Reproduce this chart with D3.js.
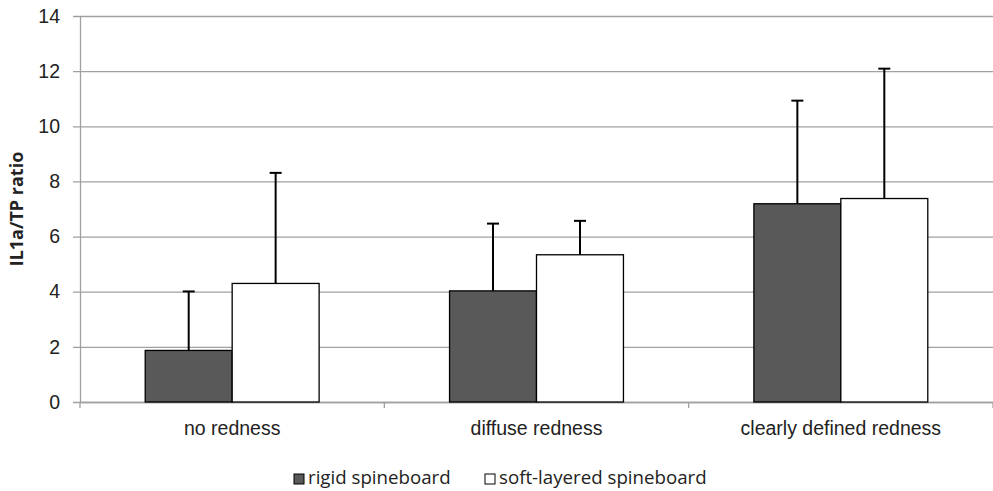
<!DOCTYPE html>
<html>
<head>
<meta charset="utf-8">
<script src="https://cdn.jsdelivr.net/npm/d3@7"></script>
<style>
  body { margin: 0; background: #fff; }
  svg { font-family: "Open Sans", sans-serif; }
</style>
</head>
<body>
<svg id="chart" width="993" height="491"></svg>
<script>
const categories = ["no redness", "diffuse redness", "clearly defined redness"];
const seriesNames = ["rigid spineboard", "soft-layered spineboard"];
const rigidValues = [1.87, 4.03, 7.19];
const rigidErrors = [2.14, 2.44, 3.74];
const softValues = [4.30, 5.34, 7.38];
const softErrors = [4.01, 1.23, 4.71];
const yTicks = [0, 2, 4, 6, 8, 10, 12, 14];

const margin = {top: 16, right: 0, bottom: 89, left: 80};
const width = 993 - margin.left - margin.right;
const height = 491 - margin.top - margin.bottom;
const fills = ["#595959", "#ffffff"];

const svg = d3.select("#chart");
const g = svg.append("g").attr("transform", `translate(${margin.left},${margin.top})`);

const x0 = d3.scaleBand().domain(categories).range([0, width]).paddingInner(0).paddingOuter(0);
// gap width 150% -> two bars take 2/3.5 of each category
const barW = x0.bandwidth() / 3.5;
const x1 = d3.scaleBand().domain(seriesNames).range([0, barW * 2]);
const y = d3.scaleLinear().domain([0, 14]).range([height, 0]);

// grid
g.append("g")
  .attr("transform", "translate(-7,0)")
  .call(d3.axisLeft(y).tickValues(yTicks).tickSize(-width - 7).tickFormat(""))
  .call(s => s.select(".domain").remove())
  .selectAll("line").attr("stroke", "#a0a0a0").attr("stroke-width", 1.3);

// y axis labels
g.append("g")
  .call(d3.axisLeft(y).tickValues(yTicks).tickSize(0).tickPadding(20))
  .call(s => s.select(".domain").attr("stroke", "#a0a0a0").attr("stroke-width", 1.3))
  .selectAll("text").attr("font-size", 19.5).attr("fill", "#222");

// x axis
const xAxis = g.append("g")
  .attr("transform", `translate(0,${height})`)
  .call(d3.axisBottom(x0).tickSize(0).tickPadding(19));
xAxis.select(".domain").attr("stroke", "#a0a0a0").attr("stroke-width", 1.3);
xAxis.selectAll("text").attr("font-size", 19.5).attr("fill", "#222");
g.append("g").selectAll("line")
  .data(d3.range(categories.length + 1))
  .join("line")
  .attr("x1", i => i * x0.step()).attr("x2", i => i * x0.step())
  .attr("y1", height).attr("y2", height + 6)
  .attr("stroke", "#a0a0a0").attr("stroke-width", 1.3);

const series = [
  {name: seriesNames[0], values: rigidValues, errors: rigidErrors, fill: fills[0]},
  {name: seriesNames[1], values: softValues, errors: softErrors, fill: fills[1]}
];

series.forEach(s => {
  const offset = (x0.bandwidth() - barW * 2) / 2 + x1(s.name);
  const grp = g.append("g");
  // error bars (drawn under bars so they start at bar top)
  categories.forEach((c, i) => {
    const cx = x0(c) + offset + barW / 2;
    grp.append("line")
      .attr("x1", cx).attr("x2", cx)
      .attr("y1", y(s.values[i])).attr("y2", y(s.values[i] + s.errors[i]))
      .attr("stroke", "#000").attr("stroke-width", 2);
    grp.append("line")
      .attr("x1", cx - 6).attr("x2", cx + 6)
      .attr("y1", y(s.values[i] + s.errors[i])).attr("y2", y(s.values[i] + s.errors[i]))
      .attr("stroke", "#000").attr("stroke-width", 2);
  });
  grp.selectAll("rect")
    .data(s.values)
    .join("rect")
    .attr("x", (d, i) => x0(categories[i]) + offset)
    .attr("y", d => y(d))
    .attr("width", barW)
    .attr("height", d => y(0) - y(d))
    .attr("fill", s.fill)
    .attr("stroke", "#000")
    .attr("stroke-width", 1.3);
});

// y label
svg.append("text")
  .attr("transform", `translate(23,${margin.top + height / 2}) rotate(-90)`)
  .attr("text-anchor", "middle")
  .attr("font-size", 18)
  .attr("font-weight", "bold")
  .attr("fill", "#222")
  .text("IL1a/TP ratio");

// legend
const legendX = [294, 485];
const legend = svg.append("g").attr("transform", "translate(0,479)");
seriesNames.forEach((n, i) => {
  legend.append("rect")
    .attr("x", legendX[i]).attr("y", -5)
    .attr("width", 10).attr("height", 10)
    .attr("fill", fills[i]).attr("stroke", "#000").attr("stroke-width", 1);
  legend.append("text")
    .attr("x", legendX[i] + 14).attr("y", 5)
    .attr("font-size", 18.7).attr("fill", "#222")
    .text(n);
});
</script>
</body>
</html>
